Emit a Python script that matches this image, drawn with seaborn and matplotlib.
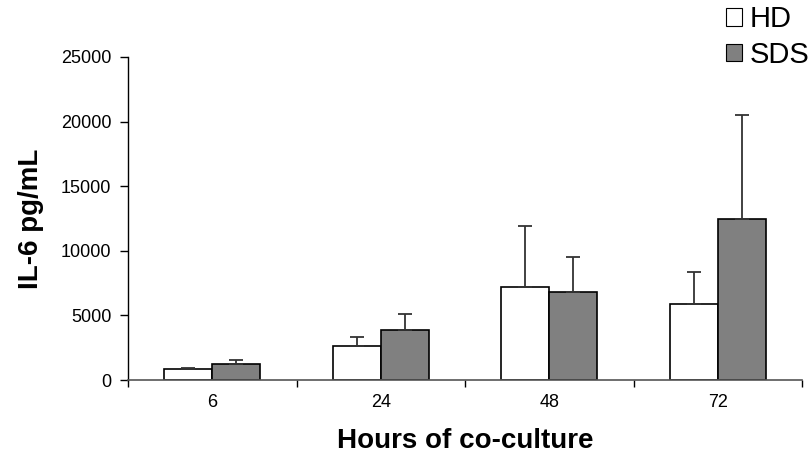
import matplotlib
matplotlib.use("Agg")
import matplotlib.pyplot as plt
import seaborn as sns
import pandas as pd
import numpy as np
from matplotlib.patches import Patch

hours = ["6", "24", "48", "72"]
groups = ["HD", "SDS"]
hd_mean = [850, 2640, 7190, 5890]
sds_mean = [1240, 3850, 6800, 12460]
hd_err = [80, 720, 4720, 2510]
sds_err = [330, 1240, 2760, 8080]
colors = {"HD": "#ffffff", "SDS": "#808080"}

df = pd.DataFrame({
    "hours": hours * 2,
    "group": ["HD"] * 4 + ["SDS"] * 4,
    "value": hd_mean + sds_mean,
    "err": hd_err + sds_err,
})

sns.set_style("white")
plt.rcParams["font.family"] = ["Liberation Sans", "DejaVu Sans"]
plt.rcParams["text.color"] = "black"
plt.rcParams["axes.labelcolor"] = "black"
plt.rcParams["xtick.color"] = "black"
plt.rcParams["ytick.color"] = "black"

fig = plt.figure(figsize=(8.11, 4.63), dpi=100)
ax = fig.add_axes([0.158, 0.179, 0.831, 0.698])

sns.barplot(data=df, x="hours", y="value", hue="group", order=hours,
            hue_order=groups, palette=colors, errorbar=None, width=0.57,
            edgecolor="black", linewidth=1.2, legend=False, ax=ax)

# error bars (upper only)
for cont, g in zip(ax.containers, groups):
    errs = df[df.group == g]["err"].values
    for bar, e in zip(cont, errs):
        xc = bar.get_x() + bar.get_width() / 2
        top = bar.get_height()
        ax.errorbar([xc], [top], yerr=[[0], [e]], fmt="none",
                    ecolor="#333333", elinewidth=1.3, capsize=5, capthick=1.3)

ax.set_ylim(0, 25000)
ax.set_xlim(-0.5, 3.5)
ax.set_yticks(np.arange(0, 25001, 5000))
ax.tick_params(axis="y", direction="out", length=6, width=1,
               labelsize=13, left=True, pad=6)
ax.set_xticks([-0.5, 0.5, 1.5, 2.5, 3.5])
ax.set_xticklabels([])
ax.set_xticks([0, 1, 2, 3], minor=True)
ax.set_xticklabels(hours, minor=True)
ax.tick_params(axis="x", which="major", direction="out", length=5, width=1,
               bottom=True)
ax.tick_params(axis="x", which="minor", length=0, labelsize=13, pad=10)

for s in ["top", "right"]:
    ax.spines[s].set_visible(False)
ax.spines["left"].set_color("black")
ax.spines["left"].set_linewidth(1)
ax.spines["bottom"].set_color("#555555")
ax.spines["bottom"].set_linewidth(1.2)

ax.set_ylabel("IL-6 pg/mL", fontsize=20, fontweight="bold", labelpad=12)
ax.set_xlabel("Hours of co-culture", fontsize=20, fontweight="bold", labelpad=12)

handles = [Patch(facecolor=colors[g], edgecolor="black", linewidth=0.8) for g in groups]
fig.legend(handles, groups, loc="upper right", bbox_to_anchor=(1.03, 1.045),
           frameon=False, fontsize=21, handlelength=0.55, handleheight=0.55,
           handletextpad=0.25, labelspacing=0.25)

fig.savefig("out.png", dpi=100)
